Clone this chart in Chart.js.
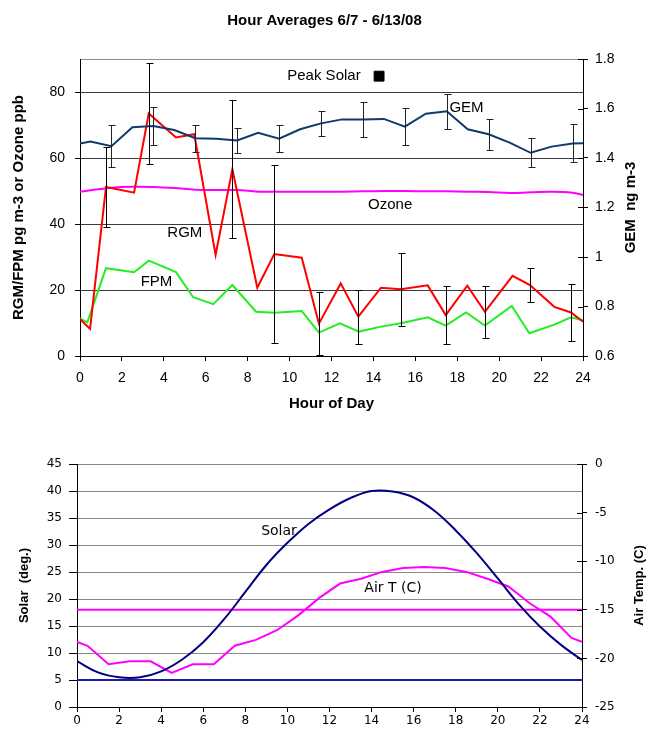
<!DOCTYPE html>
<html>
<head>
<meta charset="utf-8">
<title>Hour Averages 6/7 - 6/13/08</title>
<script src="https://cdn.jsdelivr.net/npm/chart.js@4.4.0/dist/chart.umd.min.js"></script>
<style>
  html, body { margin: 0; padding: 0; background: #fff; }
  canvas { display: block; }
</style>
</head>
<body>
<canvas id="topChart" width="649" height="425"></canvas>
<canvas id="bottomChart" width="649" height="305"></canvas>
<script>
// ---- top chart: hour averages ----
const halfHours = [0, 0.5, 1.5, 2.5, 3.5, 4.5, 5.5, 6.5, 7.5, 8.5, 9.5, 10.5, 11.5, 12.5,
                   13.5, 14.5, 15.5, 16.5, 17.5, 18.5, 19.5, 20.5, 21.5, 22.5, 23.5, 24];
const gemValues = [1.459, 1.467, 1.448, 1.524, 1.529, 1.513, 1.48, 1.478, 1.471, 1.502, 1.478, 1.516, 1.54,
                   1.556, 1.556, 1.558, 1.527, 1.579, 1.589, 1.516, 1.496, 1.462, 1.421, 1.446, 1.459, 1.46];
const gemErr = [null, null, 0.084, null, 0.076, null, 0.055, null, 0.049, null, 0.055, null, 0.051,
                null, 0.07, null, 0.075, null, 0.07, null, 0.062, null, 0.058, null, 0.077, null];
const ozoneValues = [49.8, 50.2, 51.0, 51.3, 51.2, 50.9, 50.4, 50.3, 50.3, 49.8, 49.8, 49.8, 49.8,
                     49.8, 49.9, 50.0, 50.0, 49.9, 49.9, 49.8, 49.7, 49.4, 49.6, 49.8, 49.5, 48.8];

const rgmHours = [0, 0.48, 1.24, 2.58, 3.28, 4.58, 5.45, 6.47, 7.27, 8.46, 9.27, 10.58, 11.4, 12.44,
                  13.28, 14.36, 15.31, 16.59, 17.45, 18.48, 19.32, 20.64, 21.47, 22.63, 23.43, 24];
const rgmValues = [11.2, 8.2, 51.2, 49.5, 73.5, 66.2, 67.2, 30.6, 56.6, 20.7, 30.9, 29.8, 9.8, 22.0,
                   11.9, 20.7, 20.2, 21.4, 12.4, 21.3, 13.4, 24.3, 21.5, 14.9, 13.2, 10.4];
const rgmErr = [null, null, 12.2, null, 15.2, null, null, null, 20.9, null, 26.9, null, 9.5, null,
                8.2, null, 11.0, null, 8.9, null, 7.8, null, 5.2, null, 8.6, null];

const fpmHours = [0, 0.35, 1.24, 2.58, 3.28, 4.58, 5.4, 6.36, 7.27, 8.4, 9.3, 10.58, 11.4, 12.4,
                  13.31, 14.36, 15.31, 16.59, 17.45, 18.42, 19.32, 20.6, 21.44, 22.63, 23.43, 24];
const fpmValues = [11.4, 10.2, 26.6, 25.4, 28.9, 25.4, 17.8, 15.7, 21.5, 13.4, 13.1, 13.6, 7.1, 9.9,
                   7.4, 8.9, 9.9, 11.7, 9.2, 13.2, 9.2, 15.2, 6.9, 9.5, 11.7, 10.8];

const peakSolarHour = [14.27];
const peakSolarLevel = [84.8];

const leftTicks = [0, 20, 40, 60, 80, 90];

// ---- bottom chart: solar angle and air temperature ----
const solarHours = [0, 1, 2, 3, 4, 5, 6, 7, 8, 9, 10, 11, 12, 13, 14, 15, 16, 17, 18, 19, 20, 21, 22, 23, 24];
const solarValues = [8.5, 6.4, 5.5, 5.5, 6.6, 8.8, 12.0, 16.3, 21.3, 26.3, 30.4, 33.9, 36.6, 38.7,
                     40.0, 39.9, 38.8, 36.3, 32.7, 28.5, 23.8, 19.0, 14.9, 11.5, 8.7];
const airTValues = [-18.3, -18.7, -20.6, -20.3, -20.3, -21.5, -20.6, -20.6, -18.7, -18.1, -17.1, -15.6, -13.8,
                    -12.3, -11.8, -11.1, -10.7, -10.6, -10.7, -11.1, -11.8, -12.6, -14.3, -15.7, -17.9, -18.3];
const limitHours = [0, 24];
const solarLimit = [5, 5];
const airTLimit = [-15, -15];

Chart.defaults.font.family = "'Liberation Sans', Arial, sans-serif";
Chart.defaults.color = '#000';

function pts(xs, ys) {
    return xs.map((x, i) => ({ x: x, y: ys[i] }));
}

// vertical error bars, drawn through the chart's own scales
const errorBarPlugin = {
    id: 'errorBars',
    afterDatasetsDraw(chart) {
        const ctx = chart.ctx;
        const a = chart.chartArea;
        ctx.save();
        ctx.beginPath();
        ctx.rect(a.left, a.top, a.right - a.left, a.bottom - a.top + 1);
        ctx.clip();
        chart.data.datasets.forEach(ds => {
            if (!ds.errorBars) return;
            const xs = chart.scales.x;
            const ys = chart.scales[ds.yAxisID];
            ctx.strokeStyle = ds.errorBarColor || '#000';
            ctx.lineWidth = 1;
            ds.data.forEach((p, j) => {
                const e = ds.errorBars[j];
                if (e == null) return;
                const px = Math.round(xs.getPixelForValue(p.x)) + 0.5;
                const top = Math.round(ys.getPixelForValue(p.y + e)) + 0.5;
                const bot = Math.round(ys.getPixelForValue(p.y - e)) + 0.5;
                ctx.beginPath();
                ctx.moveTo(px, top); ctx.lineTo(px, bot);
                ctx.moveTo(px - 3, top); ctx.lineTo(px + 4, top);
                ctx.moveTo(px - 3, bot); ctx.lineTo(px + 4, bot);
                ctx.stroke();
            });
        });
        ctx.restore();
    }
};

// in-plot text labels, right-hand axis title (reads bottom to top), inner half of right ticks
const textLabelPlugin = {
    id: 'textLabels',
    afterDatasetsDraw(chart, args, opts) {
        const ctx = chart.ctx;
        const a = chart.chartArea;
        ctx.save();
        const r = chart.scales.y2;
        ctx.strokeStyle = '#000';
        ctx.lineWidth = 1;
        ctx.beginPath();
        r.ticks.forEach(t => {
            const py = Math.round(r.getPixelForValue(t.value)) + 0.5;
            ctx.moveTo(a.right - 5, py);
            ctx.lineTo(a.right, py);
        });
        ctx.stroke();

        ctx.fillStyle = '#000';
        ctx.textAlign = 'center';
        ctx.textBaseline = 'middle';
        (opts.items || []).forEach(it => {
            ctx.font = it.font;
            ctx.fillText(it.text, chart.scales.x.getPixelForValue(it.x), chart.scales[it.axis].getPixelForValue(it.y));
        });
        if (opts.sideTitle) {
            ctx.translate(opts.sideTitle.x, (a.top + a.bottom) / 2);
            ctx.rotate(-Math.PI / 2);
            ctx.font = opts.sideTitle.font;
            ctx.fillText(opts.sideTitle.text, 0, 0);
        }
        ctx.restore();
    }
};

new Chart(document.getElementById('topChart'), {
    type: 'line',
    data: {
        datasets: [
            {
                label: 'Peak Solar', data: pts(peakSolarHour, peakSolarLevel), yAxisID: 'y',
                showLine: false, pointStyle: 'rect', pointRadius: 7, pointBackgroundColor: '#000', pointBorderColor: '#000'
            },
            {
                label: 'GEM', data: pts(halfHours, gemValues), yAxisID: 'y2',
                borderColor: '#0f3a6b', borderWidth: 2, pointRadius: 0, tension: 0,
                errorBars: gemErr, errorBarColor: '#222'
            },
            {
                label: 'RGM', data: pts(rgmHours, rgmValues), yAxisID: 'y',
                borderColor: '#ff0000', borderWidth: 2, pointRadius: 0, tension: 0,
                errorBars: rgmErr, errorBarColor: '#000'
            },
            {
                label: 'FPM', data: pts(fpmHours, fpmValues), yAxisID: 'y',
                borderColor: '#22ee22', borderWidth: 2, pointRadius: 0, tension: 0
            },
            {
                label: 'Ozone', data: pts(halfHours, ozoneValues), yAxisID: 'y',
                borderColor: '#ff00ff', borderWidth: 2, pointRadius: 0, tension: 0.4
            }
        ]
    },
    options: {
        responsive: false,
        animation: false,
        layout: { padding: 0 },
        plugins: {
            legend: { display: false },
            tooltip: { enabled: false },
            title: {
                display: true, text: 'Hour Averages 6/7 - 6/13/08',
                font: { size: 15, weight: 'bold' }, padding: { top: 12, bottom: 29 }, color: '#000'
            },
            textLabels: {
                items: [
                    { text: 'Peak Solar', x: 11.64, y: 84.8, axis: 'y', font: "15px 'Liberation Sans', Arial" },
                    { text: 'GEM', x: 18.44, y: 75.3, axis: 'y', font: "15px 'Liberation Sans', Arial" },
                    { text: 'Ozone', x: 14.8, y: 45.8, axis: 'y', font: "15px 'Liberation Sans', Arial" },
                    { text: 'RGM', x: 5.0, y: 37.4, axis: 'y', font: "15px 'Liberation Sans', Arial" },
                    { text: 'FPM', x: 3.65, y: 22.6, axis: 'y', font: "15px 'Liberation Sans', Arial" }
                ],
                sideTitle: { text: 'GEM  ng m-3', x: 631, font: "bold 15px 'Liberation Sans', Arial" }
            }
        },
        scales: {
            x: {
                type: 'linear', min: 0, max: 24,
                ticks: { stepSize: 2, padding: 9, font: { size: 14 } },
                grid: { drawOnChartArea: false, tickLength: 5, color: '#000' },
                border: { color: '#000' },
                title: { display: true, text: 'Hour of Day', font: { size: 15, weight: 'bold' }, padding: { top: 0, bottom: 12 } },
                afterFit(s) { s.height = 69; }
            },
            y: {
                position: 'left', min: 0, max: 90,
                afterBuildTicks(s) { s.ticks = leftTicks.map(v => ({ value: v })); },
                ticks: { padding: 10, font: { size: 14 }, callback: v => (v === 90 ? '' : v) },
                grid: {
                    color: c => (c.tick.value === 90 ? '#8c8c8c' : (c.tick.value === 0 ? 'rgba(0,0,0,0)' : '#3c3c3c')),
                    tickColor: c => (c.tick.value === 90 ? 'rgba(0,0,0,0)' : '#000'),
                    tickLength: 5
                },
                border: { color: '#000' },
                title: { display: true, text: 'RGM/FPM pg m-3 or Ozone ppb', font: { size: 15, weight: 'bold' }, padding: { top: 10, bottom: 0 } },
                afterFit(s) { s.width = 80; }
            },
            y2: {
                position: 'right', min: 0.6, max: 1.8,
                ticks: { stepSize: 0.2, padding: 7, font: { size: 14 }, callback: v => String(+v.toFixed(1)) },
                grid: { drawOnChartArea: false, tickLength: 5, color: '#000' },
                border: { color: '#000' },
                afterFit(s) { s.width = 66; }
            }
        }
    },
    plugins: [errorBarPlugin, textLabelPlugin]
});

const dejavu = "'DejaVu Sans', Verdana, sans-serif";

new Chart(document.getElementById('bottomChart'), {
    type: 'line',
    data: {
        datasets: [
            {
                label: 'Solar', data: pts(solarHours, solarValues), yAxisID: 'y',
                borderColor: '#000080', borderWidth: 2, pointRadius: 0, tension: 0.4
            },
            {
                label: 'Air T (C)', data: pts(halfHours, airTValues), yAxisID: 'y2',
                borderColor: '#ff00ff', borderWidth: 2, pointRadius: 0, tension: 0
            },
            {
                label: 'Solar limit', data: pts(limitHours, solarLimit), yAxisID: 'y',
                borderColor: '#1c1ca8', borderWidth: 2, pointRadius: 0
            },
            {
                label: 'Air T limit', data: pts(limitHours, airTLimit), yAxisID: 'y2',
                borderColor: '#ff00ff', borderWidth: 2, pointRadius: 0
            }
        ]
    },
    options: {
        responsive: false,
        animation: false,
        layout: { padding: { top: 39, left: 0, right: 0, bottom: 0 } },
        plugins: {
            legend: { display: false },
            tooltip: { enabled: false },
            textLabels: {
                items: [
                    { text: 'Solar', x: 9.6, y: 32.6, axis: 'y', font: '14px ' + dejavu },
                    { text: 'Air T (C)', x: 15.02, y: 22.0, axis: 'y', font: '14px ' + dejavu }
                ],
                sideTitle: { text: 'Air Temp. (C)', x: 639, font: "bold 13px 'Liberation Sans', Arial" }
            }
        },
        scales: {
            x: {
                type: 'linear', min: 0, max: 24,
                ticks: { stepSize: 2, padding: 2, font: { family: dejavu, size: 12 } },
                grid: { drawOnChartArea: false, tickLength: 5, color: '#000' },
                border: { color: '#000' },
                afterFit(s) { s.height = 23; }
            },
            y: {
                position: 'left', min: 0, max: 45,
                ticks: { stepSize: 5, padding: 7, font: { family: dejavu, size: 12 } },
                grid: {
                    color: c => (c.tick.value === 0 ? 'rgba(0,0,0,0)' : '#8a8a8a'),
                    tickColor: '#000', tickLength: 8
                },
                border: { color: '#000' },
                title: { display: true, text: 'Solar  (deg.)', font: { size: 13, weight: 'bold' }, padding: { top: 17, bottom: 0 } },
                afterFit(s) { s.width = 77; }
            },
            y2: {
                position: 'right', min: -25, max: 0,
                ticks: { stepSize: 5, padding: 8, font: { family: dejavu, size: 12 } },
                grid: { drawOnChartArea: false, tickLength: 5, color: '#000' },
                border: { color: '#000' },
                afterFit(s) { s.width = 67; }
            }
        }
    },
    plugins: [textLabelPlugin]
});
</script>
</body>
</html>
